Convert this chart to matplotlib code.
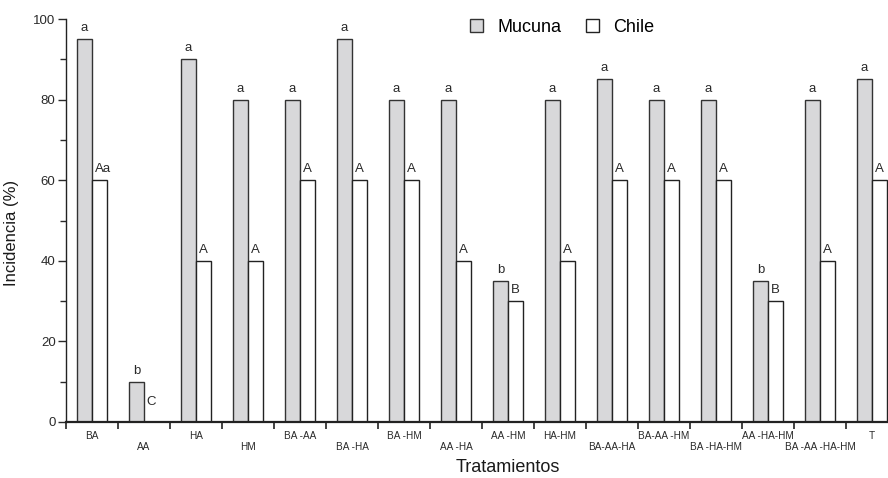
import numpy as np
import matplotlib.pyplot as plt

plt.rcParams["font.family"] = ["Liberation Sans", "DejaVu Sans"]

tratamientos = ["BA", "AA", "HA", "HM", "BA -AA", "BA -HA", "BA -HM", "AA -HA",
                "AA -HM", "HA-HM", "BA-AA-HA", "BA-AA -HM", "BA -HA-HM",
                "AA -HA-HM", "BA -AA -HA-HM", "T"]
mucuna = [95, 10, 90, 80, 80, 95, 80, 80, 35, 80, 85, 80, 80, 35, 80, 85]
chile = [60, 0, 40, 40, 60, 60, 60, 40, 30, 40, 60, 60, 60, 30, 40, 60]
letras_mucuna = ["a", "b", "a", "a", "a", "a", "a", "a", "b", "a", "a", "a",
                 "a", "b", "a", "a"]
letras_chile = ["Aa", "C", "A", "A", "A", "A", "A", "A", "B", "A", "A", "A",
                "A", "B", "A", "A"]
# label row: 0 = upper, 1 = lower
fila = [0, 1, 0, 1, 0, 1, 0, 1, 0, 0, 1, 0, 1, 0, 1, 0]

x = np.arange(len(tratamientos))
w = 0.29

fig = plt.figure(figsize=(8.88, 4.78), dpi=100)
ax = fig.add_axes([66 / 888, 56 / 478, 832 / 888, 403 / 478])

b1 = ax.bar(x - w / 2, mucuna, w, color="#d8d8da", edgecolor="#333333",
            linewidth=1.0, label="Mucuna")
b2 = ax.bar(x + w / 2, chile, w, color="white", edgecolor="#222222",
            linewidth=1.0, label="Chile")

for xi, v, t in zip(x, mucuna, letras_mucuna):
    ax.text(xi - w / 2, max(v, 2.2) + 2.0, t, ha="center", va="baseline",
            fontsize=9.5, color="#2a2a2a")
for xi, v, t in zip(x, chile, letras_chile):
    dx = 0.07 if len(t) > 1 else 0.0
    ax.text(xi + w / 2 + dx, max(v, 2.2) + 2.0, t, ha="center",
            va="baseline", fontsize=9.5, color="#2a2a2a")

for xi, lab, f in zip(x, tratamientos, fila):
    ax.text(xi, -3.5 if f == 0 else -6.2, lab, ha="center", va="center",
            fontsize=7.2, color="#2a2a2a", clip_on=False)

ax.set_xlim(-0.5, 15.5)
ax.set_ylim(0, 100)
ax.set_xticks(np.arange(-0.5, 16, 1))
ax.set_xticklabels([])
ax.set_yticks(np.arange(0, 101, 20))
ax.set_yticks(np.arange(10, 100, 20), minor=True)
ax.tick_params(axis="y", which="major", length=6, width=1, pad=1.5,
               labelsize=9.5, colors="#2a2a2a")
ax.tick_params(axis="y", which="minor", length=4.5, width=1, colors="#2a2a2a")
ax.tick_params(axis="x", length=5, width=1.2, colors="#222222")

for s in ["top", "right"]:
    ax.spines[s].set_visible(False)
ax.spines["left"].set_linewidth(1.0)
ax.spines["bottom"].set_linewidth(1.6)
ax.spines["left"].set_color("#222222")
ax.spines["bottom"].set_color("#222222")

ax.set_ylabel("Incidencia (%)", fontsize=12, color="#1a1a1a")
ax.yaxis.set_label_coords(-0.0565, 0.47)
ax.set_xlabel("Tratamientos", fontsize=13, color="#1a1a1a")
ax.xaxis.set_label_coords(0.531, -0.092)

ax.legend(handles=[b1, b2], loc="center left",
          bbox_to_anchor=((470 - 66) / 832, (422 - 27) / 403),
          ncol=2, frameon=False, fontsize=13, handlelength=0.7,
          handleheight=0.7, handletextpad=0.8, columnspacing=1.4,
          borderpad=0, borderaxespad=0)

fig.savefig("out.png", dpi=100)
